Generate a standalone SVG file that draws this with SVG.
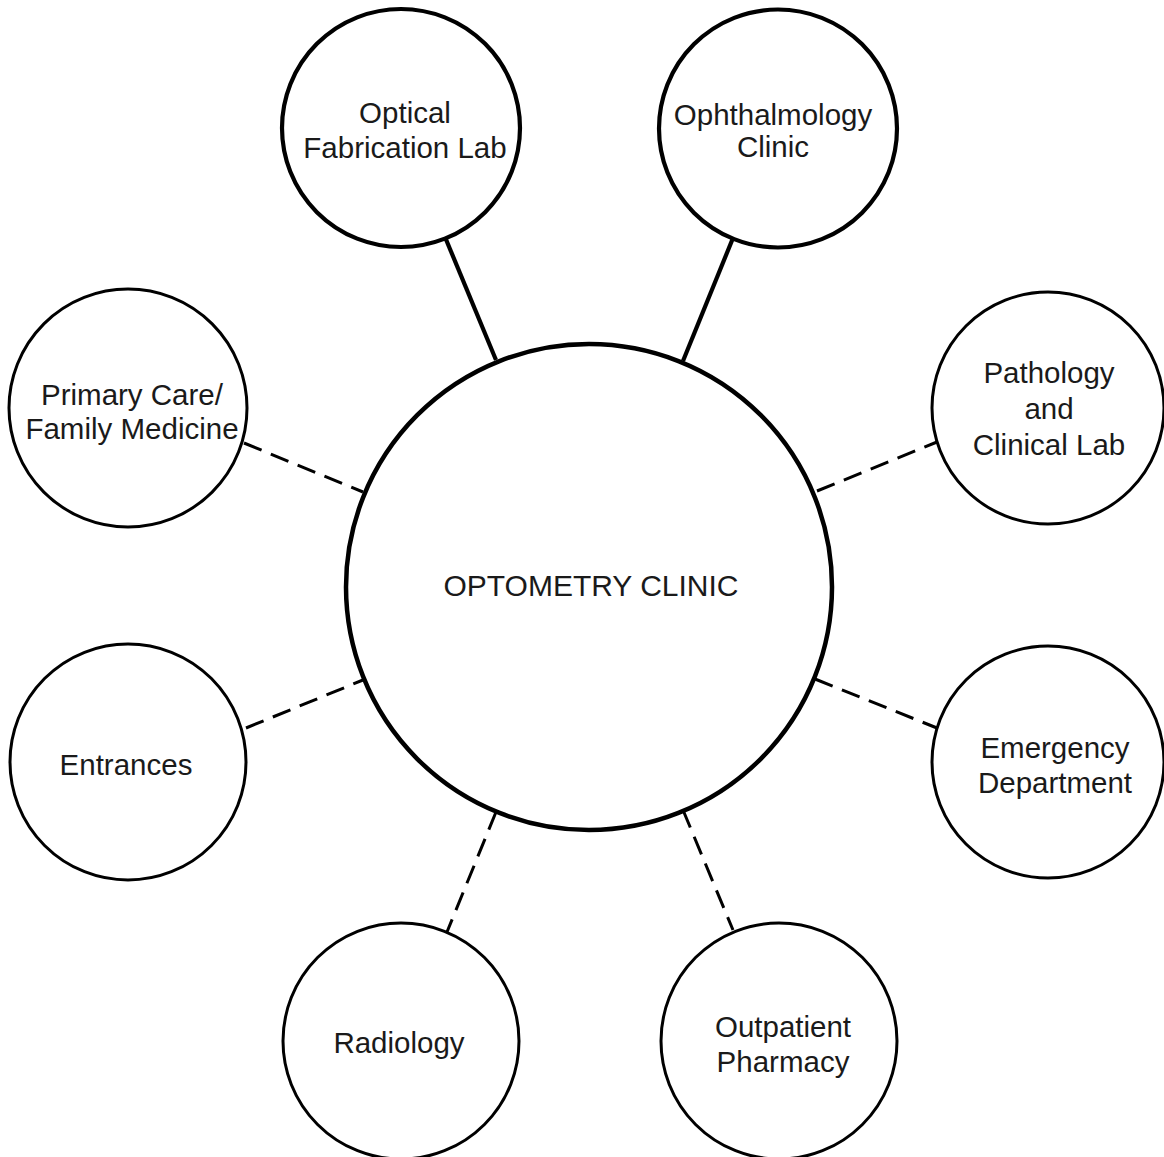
<svg xmlns="http://www.w3.org/2000/svg" width="1164" height="1157" viewBox="0 0 1164 1157">
<style>
.bg{fill:#ffffff}
.node{fill:#ffffff;stroke:#000;stroke-width:3}
.thick{stroke-width:4.2}
.main{fill:#ffffff;stroke:#000;stroke-width:4.5}
.lbl{font-family:"Liberation Sans",Arial,Helvetica,sans-serif;font-size:29.5px;fill:#1a1a1a;text-anchor:middle}
.mlbl{font-family:"Liberation Sans",Arial,Helvetica,sans-serif;font-size:30px;fill:#1a1a1a;text-anchor:middle}
.solid{stroke:#000;stroke-width:4.2;fill:none}
.dash{stroke:#000;stroke-width:3;fill:none;stroke-dasharray:19 10}
</style>
<rect class="bg" x="0" y="0" width="1164" height="1157"/>
<g id="connectors">
<line class="solid" x1="445" y1="237" x2="496" y2="360"/>
<line class="solid" x1="733" y1="238" x2="683" y2="361"/>
<line class="dash" x1="244" y1="443" x2="363" y2="492"/>
<line class="dash" x1="817" y1="491" x2="937" y2="442"/>
<line class="dash" x1="246" y1="728" x2="363" y2="680"/>
<line class="dash" x1="815" y1="679" x2="937" y2="728"/>
<line class="dash" x1="496" y1="812" x2="447" y2="932"/>
<line class="dash" x1="683" y1="810" x2="733" y2="930"/>
</g>
<g id="optometry-clinic">
<circle class="main" cx="589" cy="587" r="243"/>
<text class="mlbl" x="591" y="596">OPTOMETRY CLINIC</text>
</g>
<g id="optical-fabrication-lab">
<circle class="node thick" cx="401" cy="128" r="119"/>
<text class="lbl" x="405" y="123">Optical</text>
<text class="lbl" x="405" y="158">Fabrication Lab</text>
</g>
<g id="ophthalmology-clinic">
<circle class="node thick" cx="778" cy="128.5" r="119"/>
<text class="lbl" x="773" y="125">Ophthalmology</text>
<text class="lbl" x="773" y="157">Clinic</text>
</g>
<g id="primary-care">
<circle class="node" cx="128" cy="408" r="119"/>
<text class="lbl" x="132" y="405">Primary Care/</text>
<text class="lbl" x="132" y="439">Family Medicine</text>
</g>
<g id="pathology">
<circle class="node" cx="1048" cy="408" r="116"/>
<text class="lbl" x="1049" y="383">Pathology</text>
<text class="lbl" x="1049" y="419">and</text>
<text class="lbl" x="1049" y="455">Clinical Lab</text>
</g>
<g id="entrances">
<circle class="node" cx="128" cy="762" r="118"/>
<text class="lbl" x="126" y="775">Entrances</text>
</g>
<g id="emergency">
<circle class="node" cx="1048" cy="762" r="116"/>
<text class="lbl" x="1055" y="758">Emergency</text>
<text class="lbl" x="1055" y="793">Department</text>
</g>
<g id="radiology">
<circle class="node" cx="401" cy="1041" r="118"/>
<text class="lbl" x="399" y="1053">Radiology</text>
</g>
<g id="outpatient-pharmacy">
<circle class="node" cx="779" cy="1041" r="118"/>
<text class="lbl" x="783" y="1037">Outpatient</text>
<text class="lbl" x="783" y="1072">Pharmacy</text>
</g>
</svg>
